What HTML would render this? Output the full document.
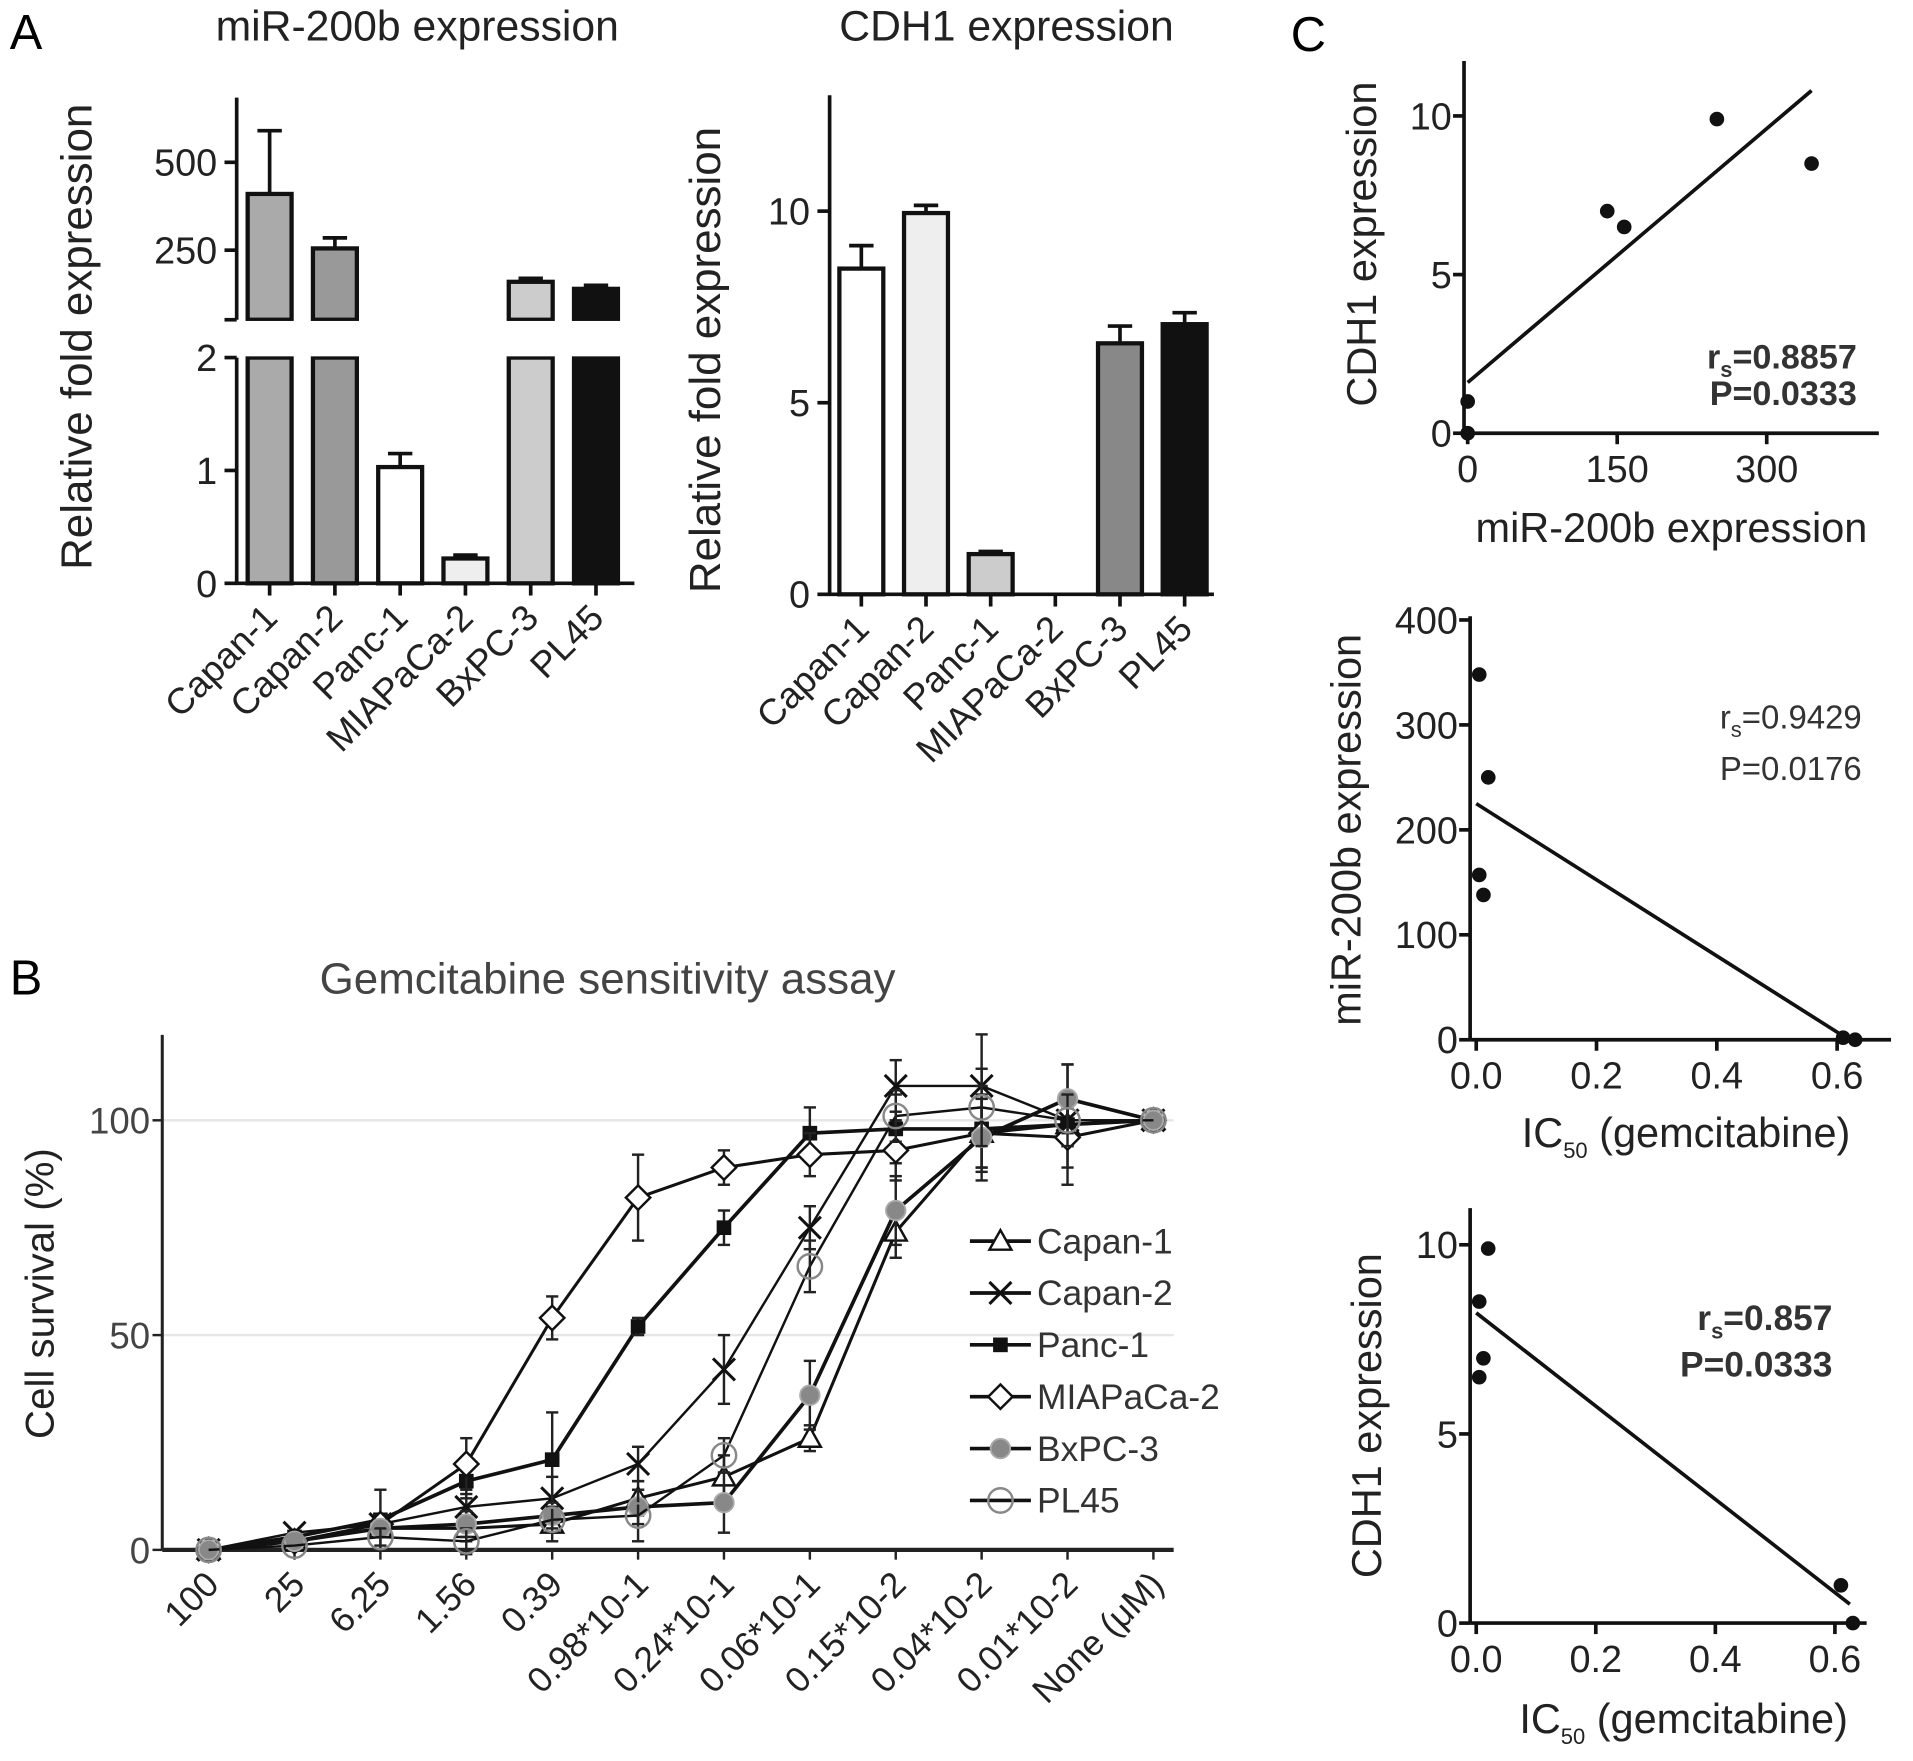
<!DOCTYPE html>
<html><head><meta charset="utf-8"><style>
html,body{margin:0;padding:0;background:#fff;}
svg{display:block;}
text{font-family:"Liberation Sans",Arial,sans-serif;}
</style></head><body>
<svg id="fig" width="1913" height="1761" viewBox="0 0 1568 1443" preserveAspectRatio="none" xmlns="http://www.w3.org/2000/svg">
<text x="8" y="40" font-size="40">A</text>
<text x="342" y="33" font-size="35" text-anchor="middle" fill="#222">miR-200b expression</text>
<text x="825" y="33" font-size="35" text-anchor="middle" fill="#222">CDH1 expression</text>
<text x="8" y="815" font-size="40">B</text>
<text x="498" y="814" font-size="36" text-anchor="middle" fill="#444">Gemcitabine sensitivity assay</text>
<text x="1058" y="42" font-size="40">C</text>
</svg>
<script>
// ---- Panel A data ----
const cellLines = ["Capan-1","Capan-2","Panc-1","MIAPaCa-2","BxPC-3","PL45"];
const mirValues = [410, 255, 1.03, 0.22, 160, 140];
const mirErrors = [180, 30, 0.12, 0.03, 10, 10];
const cdh1Values = [8.5, 9.95, 1.05, 0, 6.55, 7.05];
const cdh1Errors = [0.6, 0.2, 0.07, 0, 0.45, 0.3];
const mirTickLower = [0, 1, 2];
const mirTickUpper = [250, 500];
const cdh1Ticks = [0, 5, 10];
// ---- Panel B data ----
const doseLabels = ["100","25","6.25","1.56","0.39","0.98*10-1","0.24*10-1","0.06*10-1","0.15*10-2","0.04*10-2","0.01*10-2","None (μM)"];
const survivalTicks = [0, 50, 100];
const seriesNames = ["Capan-1","Capan-2","Panc-1","MIAPaCa-2","BxPC-3","PL45"];
const capan1 = [0, 2, 5, 5, 6, 12, 17, 26, 74, 97, 99, 100];
const capan2 = [0, 4, 6, 10, 12, 20, 42, 75, 108, 108, 100, 100];
const panc1 = [0, 3, 7, 16, 21, 52, 75, 97, 98, 98, 99, 100];
const miapaca2 = [0, 2, 6, 20, 54, 82, 89, 92, 93, 97, 96, 100];
const bxpc3 = [0, 2, 5, 6, 8, 10, 11, 36, 79, 96, 105, 100];
const pl45 = [0, 1, 3, 2, 7, 8, 22, 66, 101, 103, 100, 100];
const capan1Err = [0, 1, 2, 3, 4, 4, 5, 3, 6, 8, 5, 1];
const capan2Err = [0, 1, 2, 3, 5, 4, 8, 5, 6, 12, 6, 1];
const panc1Err = [0, 1, 7, 4, 11, 2, 4, 6, 8, 10, 14, 1];
const miapaca2Err = [0, 1, 2, 6, 5, 10, 4, 5, 7, 8, 7, 1];
const bxpc3Err = [0, 1, 2, 3, 3, 4, 7, 8, 8, 10, 8, 1];
const pl45Err = [0, 1, 2, 3, 3, 6, 4, 6, 6, 9, 6, 1];
// ---- Panel C data ----
const c1x = [0, 0, 140, 157, 250, 345];
const c1y = [0, 1, 7, 6.5, 9.9, 8.5];
const c1fitX = [0, 345];
const c1fit = [1.6, 10.8];
const c1xTicks = [0, 150, 300];
const c1yTicks = [0, 5, 10];
const c2x = [0.005, 0.02, 0.005, 0.012, 0.61, 0.63];
const c2y = [348, 250, 157, 138, 2, 0];
const c2fitX = [0, 0.62];
const c2fit = [225, 0];
const c2xTicks = [0.0, 0.2, 0.4, 0.6];
const c2yTicks = [0, 100, 200, 300, 400];
const c3x = [0.005, 0.02, 0.012, 0.005, 0.61, 0.63];
const c3y = [8.5, 9.9, 7, 6.5, 1, 0];
const c3fitX = [0, 0.625];
const c3fit = [8.2, 0.5];
const c3xTicks = [0.0, 0.2, 0.4, 0.6];
const c3yTicks = [0, 5, 10];

const NS = "http://www.w3.org/2000/svg";
const svg = document.getElementById("fig");
function el(tag, attrs, parent, txt) {
  const e = document.createElementNS(NS, tag);
  for (const k in attrs) e.setAttribute(k, attrs[k]);
  if (txt !== undefined) e.textContent = txt;
  (parent || svg).appendChild(e);
  return e;
}
function line(x1,y1,x2,y2,w,c,p){return el("line",{x1,y1,x2,y2,stroke:c||"#111","stroke-width":w||3},p);}

// ===== Panel A left =====
(function(){
  const g = el("g",{});
  
  
  const ax = 194, y0 = 478;
  const yLow = v => y0 - v * 92.5;
  const yUp = v => 205 - (v - 250) * 72 / 250;
  const xc = i => 221 + i * 53.5;
  const fills = ["#aaa","#999","#fff","#eee","#ccc","#111"];
  const lowTop = 293, upBot = 262;
  cellLines.forEach((n,i)=>{
    const v = mirValues[i], x = xc(i) - 18;
    if (v > 2) {
      const r1 = el("rect",{x, y:lowTop, width:36, height:y0-lowTop, fill:fills[i], stroke:"#111","stroke-width":3.5},g);
      
      
      const r2 = el("rect",{x, y:yUp(v), width:36, height:upBot-yUp(v), fill:fills[i], stroke:"#111","stroke-width":3.5},g);
      
      
      el("rect",{x:x-3,y:upBot+1,width:42,height:lowTop-upBot-2,fill:"#fff"},g);
      const te = yUp(v + mirErrors[i]);
      line(xc(i), yUp(v), xc(i), te, 3, "#111", g); line(xc(i)-10, te, xc(i)+10, te, 3, "#111", g);
    } else {
      const r = el("rect",{x, y:yLow(v), width:36, height:y0-yLow(v), fill:fills[i], stroke:"#111","stroke-width":3.5},g);
      
      
      const te = yLow(v + mirErrors[i]);
      line(xc(i), yLow(v), xc(i), te, 3, "#111", g); line(xc(i)-10, te, xc(i)+10, te, 3, "#111", g);
    }
    line(xc(i), y0, xc(i), y0+10, 3, "#111", g);
    const t = el("text",{x:xc(i)+8, y:y0+30, "font-size":30, "text-anchor":"end", transform:`rotate(-45 ${xc(i)+8} ${y0+30})`, fill:"#222"}, g, n);
    
    
  });
  line(ax, 80, ax, upBot, 3, "#111", g);
  line(ax, lowTop, ax, y0, 3, "#111", g);
  line(ax-1, y0, 520, y0, 3, "#111", g);
  line(ax-10, upBot, ax, upBot, 3, "#111", g);
  mirTickLower.forEach(v=>{ line(ax-10,yLow(v),ax,yLow(v),3,"#111",g);
    const t=el("text",{x:ax-16,y:yLow(v)+11,"font-size":31,"text-anchor":"end",fill:"#222"},g,String(v));
      });
  mirTickUpper.forEach(v=>{ line(ax-10,yUp(v),ax,yUp(v),3,"#111",g);
    const t=el("text",{x:ax-16,y:yUp(v)+11,"font-size":31,"text-anchor":"end",fill:"#222"},g,String(v));
      });
  const yt = el("text",{x:75,y:276,"font-size":36,"text-anchor":"middle",transform:"rotate(-90 75 276)",fill:"#222"},g,"Relative fold expression");
   
})();

// ===== Panel A right =====
(function(){
  const g = el("g",{});
  
  
  const ax = 680, y0 = 487;
  const ys = v => y0 - v * 31.4;
  const xc = i => 706 + i * 53;
  const fills = ["#fff","#eee","#ccc","#fff","#888","#111"];
  cellLines.forEach((n,i)=>{
    const v = cdh1Values[i];
    if (v > 0) {
      const r = el("rect",{x:xc(i)-18,y:ys(v),width:36,height:y0-ys(v),fill:fills[i],stroke:"#111","stroke-width":3.5},g);
      
      
      const te = ys(v + cdh1Errors[i]);
      line(xc(i), ys(v), xc(i), te, 3, "#111", g); line(xc(i)-10, te, xc(i)+10, te, 3, "#111", g);
    }
    line(xc(i), y0, xc(i), y0+10, 3, "#111", g);
    const t = el("text",{x:xc(i)+8, y:y0+30, "font-size":30, "text-anchor":"end", transform:`rotate(-45 ${xc(i)+8} ${y0+30})`, fill:"#222"}, g, n);
    
    
  });
  line(ax, 78, ax, y0, 3, "#111", g);
  line(ax-1, y0, 995, y0, 3, "#111", g);
  cdh1Ticks.forEach(v=>{ line(ax-10,ys(v),ax,ys(v),3,"#111",g);
    const t=el("text",{x:ax-16,y:ys(v)+11,"font-size":31,"text-anchor":"end",fill:"#222"},g,String(v));
      });
  const yt = el("text",{x:590,y:295,"font-size":36,"text-anchor":"middle",transform:"rotate(-90 590 295)",fill:"#222"},g,"Relative fold expression");
   
})();

// ===== Panel B =====
(function(){
  const g = el("g",{});
  
  
  const ax = 133, y0 = 1270;
  const ys = v => y0 - v * 3.52;
  const xs = i => 171 + i * 70.4;
  [50,100].forEach(v=>line(ax, ys(v), 962, ys(v), 2, "#e6e6e6", g));
  line(ax, 848, ax, y0, 2.5, "#222", g);
  line(ax, y0, 962, y0, 3.5, "#222", g);
  survivalTicks.forEach(v=>{ line(ax-8,ys(v),ax,ys(v),2,"#222",g);
    const t=el("text",{x:ax-10,y:ys(v)+11,"font-size":30,"text-anchor":"end",fill:"#444"},g,String(v));
      });
  doseLabels.forEach((d,i)=>{ line(xs(i),y0,xs(i),y0+8,2,"#222",g);
    const t=el("text",{x:xs(i)+10,y:y0+30,"font-size":29,"text-anchor":"end",transform:`rotate(-45 ${xs(i)+10} ${y0+30})`,fill:"#222"},g,d);
      });
  const yt = el("text",{x:44,y:1060,"font-size":33,"text-anchor":"middle",transform:"rotate(-90 44 1060)",fill:"#222"},g,"Cell survival (%)");
   
  const all = [capan1,capan2,panc1,miapaca2,bxpc3,pl45];
  const errs = [capan1Err,capan2Err,panc1Err,miapaca2Err,bxpc3Err,pl45Err];
  const widths = [2.5,2,3,2.5,3,2];
  function marker(k,x,y,p){
    if(k===0) return el("polygon",{points:`${x},${y-9} ${x-9},${y+7} ${x+9},${y+7}`,fill:"#fff",stroke:"#111","stroke-width":2},p);
    if(k===1){const gg=el("g",{},p); line(x-9,y-9,x+9,y+9,2.5,"#111",gg); line(x-9,y+9,x+9,y-9,2.5,"#111",gg); return gg;}
    if(k===2) return el("rect",{x:x-6,y:y-6,width:12,height:12,fill:"#111"},p);
    if(k===3) return el("polygon",{points:`${x},${y-10} ${x+10},${y} ${x},${y+10} ${x-10},${y}`,fill:"#fff",stroke:"#111","stroke-width":2},p);
    if(k===4) return el("circle",{cx:x,cy:y,r:8,fill:"#888",stroke:"#aaa","stroke-width":1.5},p);
    return el("circle",{cx:x,cy:y,r:10,fill:"none",stroke:"#888","stroke-width":2},p);
  }
  all.forEach((s,k)=>{
    const sg = el("g",{},g);
    
    
    el("polyline",{points:s.map((v,i)=>xs(i)+","+ys(v)).join(" "),fill:"none",stroke:"#111","stroke-width":widths[k]},sg);
    s.forEach((v,i)=>{ const e=errs[k][i]; if(e>1){ line(xs(i),ys(v-e),xs(i),ys(v+e),2,"#222",sg); line(xs(i)-5,ys(v+e),xs(i)+5,ys(v+e),2,"#222",sg); line(xs(i)-5,ys(v-e),xs(i)+5,ys(v-e),2,"#222",sg);} });
    s.forEach((v,i)=>{ const m=marker(k,xs(i),ys(v),sg);
      
       });
    const ly = 1017 + k*42.5;
    const lg = el("g",{},g);
    
    
    line(795,ly,845,ly,3,"#111",lg); marker(k,820,ly,lg);
    el("text",{x:850,y:ly+10,"font-size":29,fill:"#333"},lg,seriesNames[k]);
  });
})();

// ===== Panel C scatter helper =====
function scatter(name, cfg){
  const g = el("g",{});
  
  
  const xs = v => cfg.x0 + (v - cfg.xmin) * cfg.kx;
  const ys = v => cfg.y0 - v * cfg.ky;
  line(cfg.ax, cfg.top, cfg.ax, cfg.y0, 3, "#111", g);
  line(cfg.ax, cfg.y0, cfg.right, cfg.y0, 3, "#111", g);
  cfg.yt.forEach(v=>{ line(cfg.ax-9,ys(v),cfg.ax,ys(v),3,"#111",g);
    const t=el("text",{x:cfg.ax-10,y:ys(v)+11,"font-size":31,"text-anchor":"end",fill:"#222"},g,String(v));
      });
  cfg.xt.forEach(v=>{ line(xs(v),cfg.y0,xs(v),cfg.y0+9,3,"#111",g);
    const t=el("text",{x:xs(v),y:cfg.y0+40,"font-size":31,"text-anchor":"middle",fill:"#222"},g,cfg.fmt(v));
      });
  line(xs(cfg.fx[0]),ys(cfg.fy[0]),xs(cfg.fx[1]),ys(cfg.fy[1]),3,"#111",g);
  cfg.px.forEach((v,i)=>{ const c=el("circle",{cx:xs(v),cy:ys(cfg.py[i]),r:6,fill:"#111"},g);
      });
  const yt=el("text",{x:cfg.ytx,y:cfg.yty,"font-size":34,"text-anchor":"middle",transform:`rotate(-90 ${cfg.ytx} ${cfg.yty})`,fill:"#222"},g,cfg.ytitle);
   
  const xt=el("text",{x:cfg.xtx,y:cfg.xty,"font-size":34,"text-anchor":"middle",fill:"#222"},g);
   
  if(cfg.ic){ xt.textContent="IC"; el("tspan",{"font-size":18,dy:9},xt,"50"); el("tspan",{dy:-9},xt," (gemcitabine)"); }
  else xt.textContent=cfg.xtitle;
  const fw = cfg.bold ? "bold" : "normal";
  const r=el("text",{x:cfg.sx,y:cfg.sy,"font-size":cfg.fs,"text-anchor":"end","font-weight":fw,fill:"#333"},g);
   
  r.textContent="r"; el("tspan",{"font-size":18,dy:7},r,"s"); el("tspan",{dy:-7},r,"="+cfg.r);
  const p=el("text",{x:cfg.sx,y:cfg.sy+cfg.pdy,"font-size":cfg.fs,"text-anchor":"end","font-weight":fw,fill:"#333"},g,"P="+cfg.p);
   
}
scatter("cdh1-vs-mir-scatter",{ax:1200,top:50,y0:355,right:1540,x0:1203,xmin:0,kx:0.817,ky:26,
  xt:c1xTicks,yt:c1yTicks,fmt:v=>String(v),fx:c1fitX,fy:c1fit,px:c1x,py:c1y,
  ytitle:"CDH1 expression",ytx:1128,yty:200,xtitle:"miR-200b expression",xtx:1370,xty:444,
  sx:1522,sy:302,pdy:30,fs:28,r:"0.8857",p:"0.0333",bold:true});
scatter("mir-vs-ic50-scatter",{ax:1205,top:505,y0:852,right:1550,x0:1210,xmin:0,kx:493,ky:0.86,
  xt:c2xTicks,yt:c2yTicks,fmt:v=>v.toFixed(1),fx:c2fitX,fy:c2fit,px:c2x,py:c2y,
  ytitle:"miR-200b expression",ytx:1115,yty:680,ic:true,xtx:1382,xty:940,
  sx:1526,sy:597,pdy:42,fs:27,r:"0.9429",p:"0.0176",bold:false});
scatter("cdh1-vs-ic50-scatter",{ax:1205,top:990,y0:1330,right:1530,x0:1210,xmin:0,kx:490,ky:31,
  xt:c3xTicks,yt:c3yTicks,fmt:v=>v.toFixed(1),fx:c3fitX,fy:c3fit,px:c3x,py:c3y,
  ytitle:"CDH1 expression",ytx:1132,yty:1160,ic:true,xtx:1380,xty:1420,
  sx:1502,sy:1090,pdy:38,fs:29,r:"0.857",p:"0.0333",bold:true});
</script>
</body></html>
